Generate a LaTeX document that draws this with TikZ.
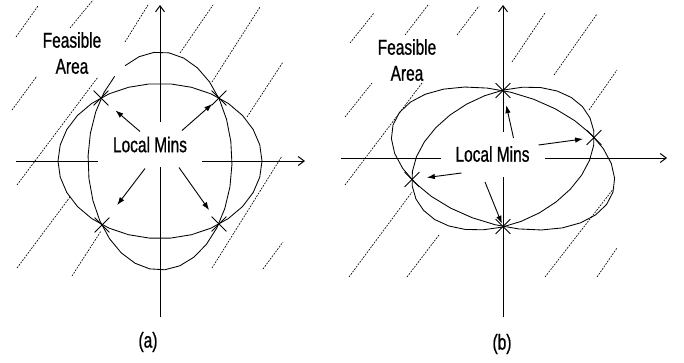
\documentclass[tikz,border=0pt]{standalone}
\usepackage{fontspec}
\newfontfamily\figfont{Liberation Sans}[FakeStretch=0.72, FakeBold=0.8]
\usetikzlibrary{arrows.meta, shapes.misc}
\tikzset{
  every picture/.style={line width=0.75pt},
  curve/.style={line width=0.85pt},
  axis/.style={line width=1pt, -{Straight Barb[length=6pt, width=9pt]}},
  hatch/.style={line width=0.65pt, dash pattern=on 1.8pt off 1.2pt},
  minpt/.style={cross out, draw, minimum size=14pt, inner sep=0pt, line width=0.8pt},
  gapbox/.style={fill=white, minimum width=104pt, minimum height=45pt, inner sep=0pt, font=\figfont\fontsize{21.5}{26}\selectfont},
  note/.style={align=center, inner sep=0pt, font=\figfont\fontsize{21.5}{26}\selectfont},
  arrow/.style={-{Latex[length=8pt, width=5.5pt]}, line width=0.9pt},
}

\begin{document}
\begin{tikzpicture}[x=1pt, y=-1pt]
  \useasboundingbox (0,0) rectangle (684,362);
  % hatched feasible area
  \foreach \xa/\ya/\xb/\yb in {16/37/38/6, 70/28/93/0, 125/42/148/5, 12/110/37/76, 17/185/98/77,
                               17/268/70/197, 72/276/101/231, 180/53/213/5, 212/82/260/7,
                               247/117/283/62, 212/268/282/156, 263/269/283/242,
                               350/43/374/13, 405/35/428/5, 457/35/479/6, 512/62/545/13,
                               554/75/597/14, 589/110/617/70, 345/117/372/83, 345/185/422/83,
                               349/277/412/192, 407/277/439/235, 545/277/614/188, 597/277/617/248}
    \draw[hatch] (\xa,\ya) -- (\xb,\yb);

  % (a)
  \coordinate (ca) at (160,161);
  \draw[curve, shift={(ca)}] plot[domain=241:591, samples=30] ({72*cos(\x)}, {109*sin(\x)});
  \draw[curve, shift={(ca)}] plot[domain=0:360, samples=31] ({102*cos(\x)}, {77.5*sin(\x)});
  \draw[axis] (160,317) -- (160,5);
  \draw[axis] (16,161) -- (305,161);
  \node[gapbox] (la) at (150,144.5) {Local Mins};
  \node[note] (fa) at (72,53) {Feasible\\Area};
  \node[minpt] (ma1) at (101,98) {};
  \node[minpt] (ma2) at (219,98) {};
  \node[minpt] (ma3) at (102,225) {};
  \node[minpt] (ma4) at (219,224) {};
  \draw[arrow, shorten >=19pt] ([shift={(-10,-13)}]la.center) -- (ma1.center);
  \draw[arrow, shorten >=9pt] ([shift={(32,-14)}]la.center) -- (ma2.center);
  \draw[arrow, shorten >=25pt] ([shift={(-5,24)}]la.center) -- (ma3.center);
  \draw[arrow, shorten >=17pt] ([shift={(29,23)}]la.center) -- (ma4.center);
  \node[note] (capa) at (148,342) {(a)};

  % (b)
  \coordinate (cb) at (503,158.5);
  \draw[curve, shift={(cb)}, rotate=-17] plot[domain=0:360, samples=31] ({115*cos(\x)}, {66*sin(\x)});
  \draw[curve, shift={(cb)}, rotate=25] plot[domain=0:360, samples=31] ({96*cos(\x)}, {65*sin(\x)});
  \draw[axis] (503,317) -- (503,5);
  \draw[axis] (341,158) -- (667,158);
  \node[gapbox] (lb) at (492.5,154) {Local Mins};
  \node[note] (fb) at (407,60) {Feasible\\Area};
  \node[minpt] (mb1) at (503,90.5) {};
  \node[minpt] (mb2) at (594,137.5) {};
  \node[minpt] (mb3) at (412,179.5) {};
  \node[minpt] (mb4) at (503,226.5) {};
  \draw[arrow, shorten >=15pt] ([shift={(21,-16)}]lb.center) -- (mb1.center);
  \draw[arrow, shorten >=11pt] ([shift={(46,-9)}]lb.center) -- (mb2.center);
  \draw[arrow, shorten >=15pt] ([shift={(-31,19)}]lb.center) -- (mb3.center);
  \draw[arrow, shorten >=3pt] ([shift={(-7.5,28)}]lb.center) -- (mb4.center);
  \node[note] (capb) at (502,344) {(b)};
\end{tikzpicture}
\end{document}
